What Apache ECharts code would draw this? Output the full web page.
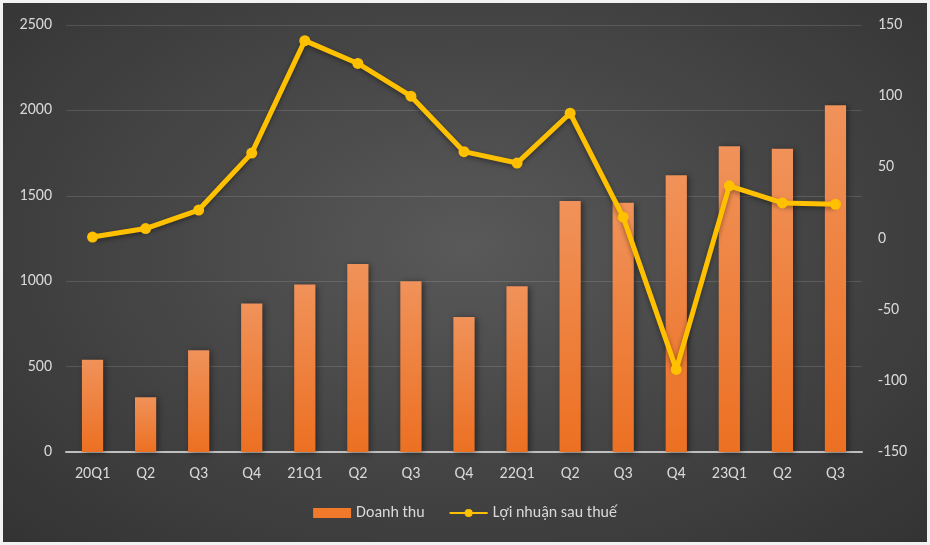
<!DOCTYPE html>
<html>
<head>
<meta charset="utf-8">
<script src="https://cdn.jsdelivr.net/npm/echarts@6/dist/echarts.min.js"></script>
<style>
  html, body { margin: 0; padding: 0; background: #f2f2f2; }
  #chart { position: absolute; left: 3px; top: 3px; width: 924px; height: 539px;
    background: radial-gradient(ellipse at 50% 45%, #595959 0%, #474747 45%, #333333 100%); }
</style>
</head>
<body>
<div id="chart"></div>
<script>
let quarters = ['20Q1', 'Q2', 'Q3', 'Q4', '21Q1', 'Q2', 'Q3', 'Q4', '22Q1', 'Q2', 'Q3', 'Q4', '23Q1', 'Q2', 'Q3']
let doanh_thu = [540, 320, 595, 870, 980, 1100, 1000, 790, 970, 1470, 1460, 1620, 1790, 1775, 2030]
let loi_nhuan = [1, 7, 20, 60, 139, 123, 100, 61, 53, 88, 15, -92, 37, 25, 24]

let chart = echarts.init(document.getElementById('chart'))
let label_color = '#d9d9d9'
let font = 'Calibri, "Open Sans", sans-serif'

function plain(v) {
    return String(v)
}

option = {
    backgroundColor: 'transparent',
    animation: false,
    textStyle: { fontFamily: font },
    grid: {
        left: 63,
        right: 65,
        top: 22,
        bottom: 90
    },
    legend: {
        bottom: 16,
        left: 'center',
        itemGap: 24,
        itemWidth: 38,
        itemHeight: 10,
        textStyle: { color: label_color, fontSize: 16, fontFamily: font },
        data: [
            { name: 'Doanh thu', icon: 'rect', itemStyle: { color: '#f07a2a' } },
            { name: 'Lợi nhuận sau thuế' }
        ]
    },
    xAxis: [
        {
            type: 'category',
            data: quarters,
            axisTick: { show: false },
            axisLine: { show: true, lineStyle: { color: '#bfbfbf', width: 2 } },
            axisLabel: { color: label_color, fontSize: 16, margin: 14 }
        }
    ],
    yAxis: [
        {
            type: 'value',
            min: 0,
            max: 2500,
            interval: 500,
            axisLine: { show: false },
            axisTick: { show: false },
            axisLabel: { color: label_color, fontSize: 16, margin: 14, formatter: plain },
            splitLine: { lineStyle: { color: 'rgba(255,255,255,0.13)', width: 1 } }
        },
        {
            type: 'value',
            min: -150,
            max: 150,
            interval: 50,
            axisLine: { show: false },
            axisTick: { show: false },
            axisLabel: { color: label_color, fontSize: 16, margin: 16, align: 'left', formatter: plain },
            splitLine: { show: false }
        }
    ],
    series: [
        {
            name: 'Doanh thu',
            type: 'bar',
            data: doanh_thu,
            barWidth: '40%',
            itemStyle: {
                color: new echarts.graphic.LinearGradient(0, 0, 0, 1, [
                    { offset: 0, color: '#f0925a' },
                    { offset: 1, color: '#ec7022' }
                ]),
                shadowColor: 'rgba(0,0,0,0.45)',
                shadowBlur: 6,
                shadowOffsetX: 2,
                shadowOffsetY: 1
            }
        },
        {
            name: 'Lợi nhuận sau thuế',
            type: 'line',
            yAxisIndex: 1,
            data: loi_nhuan,
            symbol: 'circle',
            symbolSize: 11,
            lineStyle: {
                color: '#ffc000',
                width: 5,
                shadowColor: 'rgba(0,0,0,0.4)',
                shadowBlur: 5,
                shadowOffsetY: 2
            },
            itemStyle: { color: '#ffc000' }
        }
    ]
}
chart.setOption(option)
</script>
</body>
</html>
